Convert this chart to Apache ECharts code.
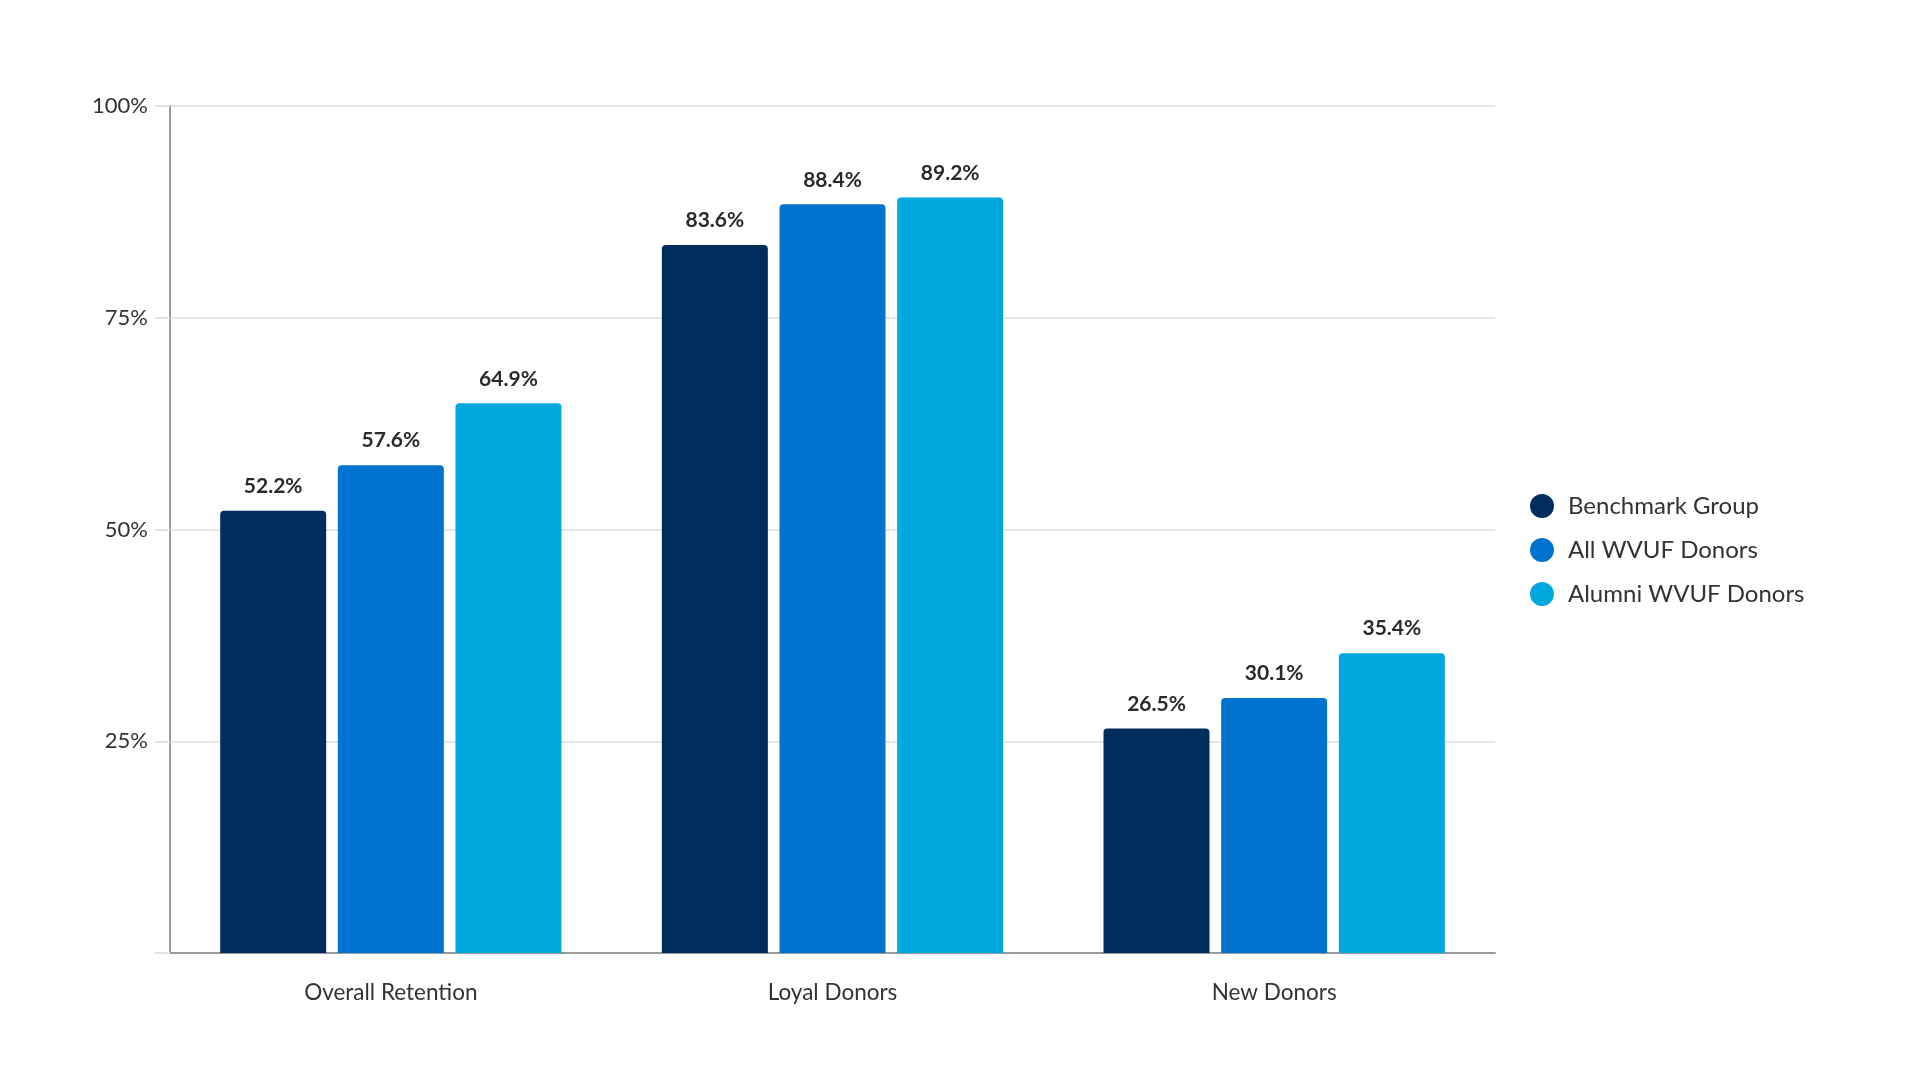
<!DOCTYPE html>
<html>
<head>
<meta charset="utf-8">
<title>Donor Retention</title>
<script src="https://cdn.jsdelivr.net/npm/echarts@6/dist/echarts.min.js"></script>
<style>
  html, body { margin: 0; padding: 0; background: #fff; }
  #chart { width: 1920px; height: 1080px; }
</style>
</head>
<body>
<div id="chart"></div>
<script>
var categories = ['Overall Retention', 'Loyal Donors', 'New Donors'];
var seriesNames = ['Benchmark Group', 'All WVUF Donors', 'Alumni WVUF Donors'];
var benchmark = [52.2, 83.6, 26.5];
var allDonors = [57.6, 88.4, 30.1];
var alumniDonors = [64.9, 89.2, 35.4];
var colors = ['#002D5C', '#0073CF', '#00A8E0'];

var chart = echarts.init(document.getElementById('chart'));

function makeSeries(name, data, color) {
  return {
    name: name,
    type: 'bar',
    data: data,
    barWidth: '24%',
    barGap: '11%',
    itemStyle: { color: color, borderRadius: [4, 4, 0, 0] },
    label: {
      show: true,
      position: 'top',
      distance: 14,
      formatter: '{c}%',
      fontFamily: 'Lato',
      fontWeight: 'bold',
      fontSize: 21,
      color: '#2a2a2a'
    }
  };
}

chart.setOption({
  textStyle: { fontFamily: 'Lato' },
  animation: false,
  grid: { left: 170, right: 425, top: 106, bottom: 127 },
  legend: {
    orient: 'vertical',
    left: 1525,
    top: 489,
    icon: 'circle',
    itemWidth: 24,
    itemHeight: 24,
    itemGap: 20,
    textStyle: { fontFamily: 'Lato', fontSize: 24, color: '#333', padding: [0, 0, 0, 9] },
    data: seriesNames
  },
  xAxis: {
    type: 'category',
    data: categories,
    axisLine: { lineStyle: { color: '#999', width: 2 } },
    axisTick: { show: false },
    axisLabel: { fontFamily: 'Lato', fontSize: 22.5, color: '#333', margin: 28 }
  },
  yAxis: {
    type: 'value',
    min: 0,
    max: 100,
    interval: 25,
    axisLine: { show: true, lineStyle: { color: '#999', width: 2 } },
    axisTick: { show: true, length: 15, lineStyle: { color: '#e3e3e3', width: 2 } },
    splitLine: { lineStyle: { color: '#e6e6e6', width: 2 } },
    axisLabel: {
      fontFamily: 'Lato',
      fontSize: 22,
      color: '#333',
      margin: 22,
      formatter: function (v) { return v === 0 ? '' : v + '%'; }
    }
  },
  series: [
    makeSeries(seriesNames[0], benchmark, colors[0]),
    makeSeries(seriesNames[1], allDonors, colors[1]),
    makeSeries(seriesNames[2], alumniDonors, colors[2])
  ]
});
</script>
</body>
</html>
